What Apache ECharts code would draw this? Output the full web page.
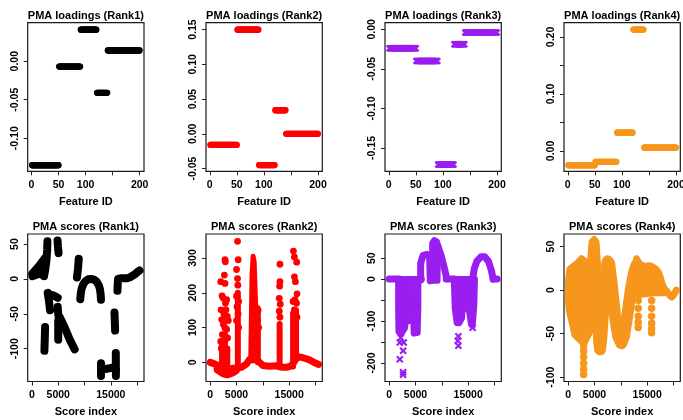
<!DOCTYPE html>
<html>
<head>
<meta charset="utf-8">
<script src="https://cdn.jsdelivr.net/npm/echarts@6/dist/echarts.min.js"></script>
<style>
  html, body { margin: 0; padding: 0; background: #fff; }
  #chart { width: 683px; height: 420px; }
</style>
</head>
<body>
<div id="chart"></div>
<script>
// ---------- Loadings: 200 features grouped in five blocks ----------
const featureCount = 200;
const blockEnds = [50, 90, 120, 140, 200];
const loadingsRank1 = [-0.135, -0.007, 0.041, -0.041, 0.014];
const loadingsRank2 = [-0.016, 0.150, -0.045, 0.034, 0.000];
const loadingsRank3 = [-0.024, -0.040, -0.171, -0.019, -0.004];
const loadingsRank4 = [-0.025, -0.019, 0.032, 0.213, 0.006];

// ---------- Tick marks and labels ----------
const featureTicks = [0, 50, 100, 150, 200];
const featureLabels = [0, 50, 100, 200];
const scoreTicks = [0, 5000, 10000, 15000, 20000];
const scoreLabels = [0, 5000, 15000];
const loadTicks = [
  [-0.10, -0.05, 0.00],
  [-0.05, 0.00, 0.05, 0.10, 0.15],
  [-0.15, -0.10, -0.05, 0.00],
  [0.00, 0.05, 0.10, 0.15, 0.20]
];
const loadLabels = [
  [-0.10, -0.05, 0.00],
  [-0.05, 0.00, 0.05, 0.10, 0.15],
  [-0.15, -0.10, -0.05, 0.00],
  [0.00, 0.10, 0.20]
];
const scoreYTicks = [
  [-100, -50, 0, 50],
  [0, 100, 200, 300],
  [-200, -150, -100, -50, 0, 50],
  [-100, -50, 0, 50]
];
const scoreYLabels = [
  [-100, -50, 0, 50],
  [0, 100, 200, 300],
  [-200, -100, 0, 50],
  [-100, -50, 0, 50]
];

const loadTitles = ['PMA loadings (Rank1)', 'PMA loadings (Rank2)', 'PMA loadings (Rank3)', 'PMA loadings (Rank4)'];
const scoreTitles = ['PMA scores (Rank1)', 'PMA scores (Rank2)', 'PMA scores (Rank3)', 'PMA scores (Rank4)'];

// ---------- Scores, Rank1: traced strokes (index, score) ----------
const scoresRank1Strokes = [
  [[100, 8], [700, 13], [1400, 19], [2000, 25], [2500, 30]],
  [[100, 4], [900, 6], [1700, 8], [2200, 5]],
  [[2950, 54], [2900, 42], [2800, 30], [2550, 14], [2300, 4]],
  [[4870, 55], [4950, 46], [5060, 37]],
  [[8900, 29], [8750, 14], [8560, 2]],
  [[9190, -29], [9300, -20], [9440, -14], [9800, -7], [10190, -3], [10700, -0.5], [11250, 0], [11800, -1], [12310, -4], [12700, -9], [12940, -15], [13060, -22], [13125, -30]],
  [[16250, -17], [16300, -8], [16375, 0], [17000, 1], [18100, 1], [18700, 2.5], [19060, 4], [19600, 7], [20000, 9.5], [20450, 12]],
  [[3000, -20], [3250, -32], [3450, -45]],
  [[3300, -22], [4200, -24], [4900, -27]],
  [[4900, -40], [5000, -50], [5200, -60]],
  [[5300, -55], [6250, -70], [7190, -87], [8120, -101]],
  [[5000, -60], [5000, -75], [5000, -87]],
  [[2500, -69], [2450, -85], [2375, -103]],
  [[15690, -48], [15750, -60], [15810, -74]],
  [[13130, -121], [13130, -139]],
  [[13130, -128], [14200, -129], [15300, -127], [15940, -130]],
  [[15940, -106], [15950, -120], [15960, -139]]
];

// ---------- Scores, Rank2 ----------
const scoresRank2Base = [[0, 0], [940, -5], [1870, -11], [2800, -18], [3500, -20], [4370, -17], [5000, -16], [5940, -14], [6870, -5], [7500, 9], [8120, 14], [9060, 5], [10000, -9], [11250, -11], [12500, -10], [13750, -14], [14500, -14], [15310, -11], [15900, 0], [16560, 16], [17500, 14], [18750, 8], [20000, -2], [20600, -6]];
const scoresRank2Band = [[1500, -20], [2500, -30], [3300, -33], [4200, -28], [4800, -22]];
const scoresRank2Columns = [
  [[2250, -25], [2250, 60]],
  [[2800, -25], [2800, 80]],
  [[3250, -25], [3250, 40]],
  [[5250, -15], [5250, 200]],
  [[9050, 0], [9050, 150]],
  [[13190, -14], [13190, 110]],
  [[15750, -12], [15750, 130]],
  [[16300, 10], [16300, 150]]
];
const scoresRank2Spike = [[7700, 5], [7950, 250], [8150, 305], [8350, 290], [8550, 200], [8750, 110], [8850, 5]];
const scoresRank2Dots = [
  [2000, 232], [2250, 191], [2500, 184], [2060, 151], [2190, 123], [2500, 109], [2310, 80], [2810, 295], [2870, 289], [2690, 251], [2810, 227], [2810, 99], [3120, 180], [3250, 132], [3440, 120], [3000, 151], [3120, 95], [2000, 60], [2100, 40], [2600, 140], [2900, 170], [3300, 70],
  [5190, 348], [5310, 295], [5000, 267], [5190, 241], [5250, 222], [5000, 190], [5400, 175], [5100, 160], [5300, 140], [5000, 120], [5400, 100],
  [8900, 155], [9100, 150], [9000, 120], [9200, 100], [8700, 140],
  [13250, 282], [13250, 232], [13190, 219], [13120, 184], [13310, 167], [13120, 147], [13250, 130],
  [15810, 320], [16000, 303], [16440, 288], [16000, 246], [16190, 232], [16500, 197], [16120, 180], [15750, 175], [16000, 151], [16400, 170], [16500, 130], [15800, 140]
];

// ---------- Scores, Rank3 ----------
const scoresRank3Strokes = [
  [[0, 0], [1900, 0]],
  [[5535, 0], [6100, 0]],
  [[5975, -2], [5975, 37], [6416, 56], [7171, 59], [7674, 55]],
  [[7674, 55], [7800, -4]],
  [[9058, 86], [9875, 56], [10504, 25], [10945, 1]],
  [[10819, 0], [12391, 0]],
  [[15850, 0], [16165, 25], [16668, 43], [17423, 53], [18178, 53], [18870, 42], [19436, 20], [19751, 0]],
  [[19751, 0], [20500, 0]]
];
const scoresRank3Masses = [
  [[1698, 0], [5535, 0], [5535, -65], [5410, -128], [4655, -130], [4529, -73], [4151, -61], [4026, -100], [3271, -97], [2956, -118], [2327, -130], [1761, -126], [1698, -73]],
  [[8051, -4], [8177, 86], [8554, 93], [9058, 90], [9247, 74], [9184, -4]],
  [[12265, 0], [14781, 0], [14781, -63], [14467, -70], [14090, -47], [13838, -93], [13335, -105], [12832, -105], [12454, -70]],
  [[14781, 0], [16291, 0], [16165, -63], [15850, -112], [15536, -108], [15096, -70]]
];
const scoresRank3Dots = [
  [2013, -151], [2013, -191], [2642, -171], [2642, -222], [2642, -228], [2201, -140], [2768, -151], [5158, -124],
  [13146, -136], [13146, -159], [13020, -147], [15850, -116], [15725, -104]
];

// ---------- Scores, Rank4 ----------
const scoresRank4Mass = [
  [0, 0], [100, 13], [318, 24], [955, 27], [1592, 30], [2102, 33], [2548, 36], [2994, 34], [3376, 30], [3822, 28], [4268, 34], [4523, 55], [4905, 58], [5287, 55], [5542, 30],
  [5542, -23], [4778, -34], [4140, -47], [3504, -55], [2994, -61], [2548, -59], [1911, -55], [1274, -51], [637, -34], [191, -23], [0, -8]
];
const scoresRank4Wave = [[5300, 20], [5650, -30], [5900, -60], [6050, -68], [6300, -55], [6700, -15], [7100, 20], [7500, 33], [7800, 30], [8300, 5], [8900, -30], [9500, -53], [10100, -61], [10600, -53], [11200, -30], [11900, 0], [12500, 20], [13000, 29]];
const scoresRank4Plateau = [[12600, 18], [13000, 36], [13500, 30], [14500, 27], [15500, 28], [16500, 25], [17200, 20], [17800, 8], [18300, 1], [18300, -3], [16000, -3], [13500, -5], [12300, 0]];
const scoresRank4Tail = [[18000, 2], [18700, -1], [19300, -6], [19700, -8], [20100, -5], [20550, 0]];
const scoresRank4Dots = [
  [2930, -64], [2930, -70], [2930, -77], [2930, -84], [2930, -91], [2930, -97],
  [13300, 15], [13300, 6], [13300, -3], [13300, -12], [13300, -21], [13300, -30], [13300, -37], [13300, -43],
  [15850, 15], [15850, 6], [15850, -3], [15850, -12], [15850, -21], [15850, -30], [15850, -38], [15850, -44], [15850, -49]
];

// ---------- Layout ----------
const FONT = '"Liberation Sans", Arial, Helvetica, sans-serif';
const colLeft = [27.7, 206, 385, 564];
const panelW = 116.3;
const rowTop = [22.7, 234];
const rowH = [148.6, 147.5];
const loadYRange = [[-0.143, 0.050], [-0.054, 0.160], [-0.1795, 0.0084], [-0.0357, 0.225]];
const scoreYRange = [[-147, 64.4], [-55, 369], [-244, 107.5], [-105, 64.4]];
const featureRange = [-7, 208];
const scoreRange = [-800, 21300];
const colors = ['#000000', '#FF0000', '#9A1EF0', '#F7961C'];
const crossPath = 'path://M0,2L2,0L5,3L8,0L10,2L7,5L10,8L8,10L5,7L2,10L0,8L3,5Z';

function expandBlocks(vals) {
  const out = [];
  let b = 0;
  for (let id = 1; id <= featureCount; id++) {
    while (id > blockEnds[b]) b++;
    out.push([id, vals[b]]);
  }
  return out;
}

const labelStyle = { fontSize: 10.5, fontWeight: 'bold', color: '#000', fontFamily: FONT };
const tickStyle = { color: '#222', width: 1 };

function xAxisCfg(i, range, ticks, labels, name) {
  return {
    type: 'value', gridIndex: i, min: range[0], max: range[1], position: 'bottom',
    name: name, nameLocation: 'middle', nameGap: 25,
    nameTextStyle: { fontSize: 11, fontWeight: 'bold', color: '#000', fontFamily: FONT },
    axisLine: { show: false, onZero: false }, splitLine: { show: false },
    axisTick: { show: true, length: 4, customValues: ticks, lineStyle: tickStyle },
    axisLabel: Object.assign({ customValues: labels, margin: 8, formatter: v => String(Math.round(v)) }, labelStyle)
  };
}
function yAxisCfg(i, range, ticks, labels, fmt) {
  return {
    type: 'value', gridIndex: i, min: range[0], max: range[1], position: 'left',
    axisLine: { show: false, onZero: false }, splitLine: { show: false },
    axisTick: { show: true, length: 4, customValues: ticks, lineStyle: tickStyle },
    axisLabel: Object.assign({ customValues: labels, margin: 7, rotate: 90, formatter: fmt }, labelStyle)
  };
}

const grids = [], xAxes = [], yAxes = [], titles = [], series = [];
for (let r = 0; r < 2; r++) {
  for (let c = 0; c < 4; c++) {
    const i = r * 4 + c;
    grids.push({
      left: colLeft[c], top: rowTop[r], width: panelW, height: rowH[r],
      show: true, borderColor: '#1a1a1a', borderWidth: 1.2, backgroundColor: 'transparent',
      containLabel: false, outerBoundsMode: 'none'
    });
    titles.push({
      text: r === 0 ? loadTitles[c] : scoreTitles[c],
      left: colLeft[c] + panelW / 2, top: r === 0 ? 10.5 : 221, textAlign: 'center', padding: 0,
      textStyle: { fontSize: 11, fontWeight: 'bold', color: '#000', fontFamily: FONT }
    });
    if (r === 0) {
      xAxes.push(xAxisCfg(i, featureRange, featureTicks, featureLabels, 'Feature ID'));
      yAxes.push(yAxisCfg(i, loadYRange[c], loadTicks[c], loadLabels[c], v => Number(v).toFixed(2)));
    } else {
      xAxes.push(xAxisCfg(i, scoreRange, scoreTicks, scoreLabels, 'Score index'));
      yAxes.push(yAxisCfg(i, scoreYRange[c], scoreYTicks[c], scoreYLabels[c], v => String(Math.round(v))));
    }
  }
}

// loadings as dense point rows
[loadingsRank1, loadingsRank2, loadingsRank3, loadingsRank4].forEach((vals, c) => {
  series.push({
    type: 'scatter', xAxisIndex: c, yAxisIndex: c, data: expandBlocks(vals),
    symbol: c === 2 ? crossPath : 'circle', symbolSize: c === 2 ? 7 : 6.2,
    itemStyle: { color: colors[c], opacity: 1 }, silent: true
  });
});

function stroke(i, pts, color, w) {
  return {
    type: 'line', xAxisIndex: i, yAxisIndex: i, data: pts, symbol: 'none', showSymbol: false,
    lineStyle: { color: color, width: w, cap: 'round', join: 'round' }, silent: true, z: 3
  };
}
function mass(i, pts, color, w) {
  return {
    type: 'custom', xAxisIndex: i, yAxisIndex: i, data: [pts[0]], silent: true, z: 2,
    renderItem: function (params, api) {
      return {
        type: 'polygon',
        shape: { points: pts.map(p => api.coord(p)) },
        style: { fill: color, stroke: color, lineWidth: w, lineJoin: 'round' }
      };
    }
  };
}
function dots(i, pts, color, symbol, size) {
  return {
    type: 'scatter', xAxisIndex: i, yAxisIndex: i, data: pts, symbol: symbol, symbolSize: size,
    itemStyle: { color: color, opacity: 1 }, silent: true, z: 4
  };
}

// Rank1 scores
scoresRank1Strokes.forEach(s => series.push(stroke(4, s, colors[0], 8)));
// Rank2 scores
series.push(stroke(5, scoresRank2Base, colors[1], 7));
series.push(stroke(5, scoresRank2Band, colors[1], 9));
scoresRank2Columns.forEach(s => series.push(stroke(5, s, colors[1], 6)));
series.push(mass(5, scoresRank2Spike, colors[1], 5));
series.push(dots(5, scoresRank2Dots, colors[1], 'circle', 6.8));
// Rank3 scores
scoresRank3Masses.forEach(m => series.push(mass(6, m, colors[2], 6)));
scoresRank3Strokes.forEach(s => series.push(stroke(6, s, colors[2], 7)));
series.push(dots(6, scoresRank3Dots, colors[2], crossPath, 7.5));
// Rank4 scores
series.push(mass(7, scoresRank4Mass, colors[3], 7));
series.push(mass(7, scoresRank4Plateau, colors[3], 7));
series.push(stroke(7, scoresRank4Wave, colors[3], 12));
series.push(stroke(7, scoresRank4Tail, colors[3], 7));
series.push(dots(7, scoresRank4Dots, colors[3], 'circle', 7.5));

const chart = echarts.init(document.getElementById('chart'), null, { renderer: 'canvas' });
chart.setOption({
  animation: false,
  backgroundColor: '#fff',
  textStyle: { fontFamily: FONT },
  title: titles,
  grid: grids,
  xAxis: xAxes,
  yAxis: yAxes,
  series: series
});
</script>
</body>
</html>
